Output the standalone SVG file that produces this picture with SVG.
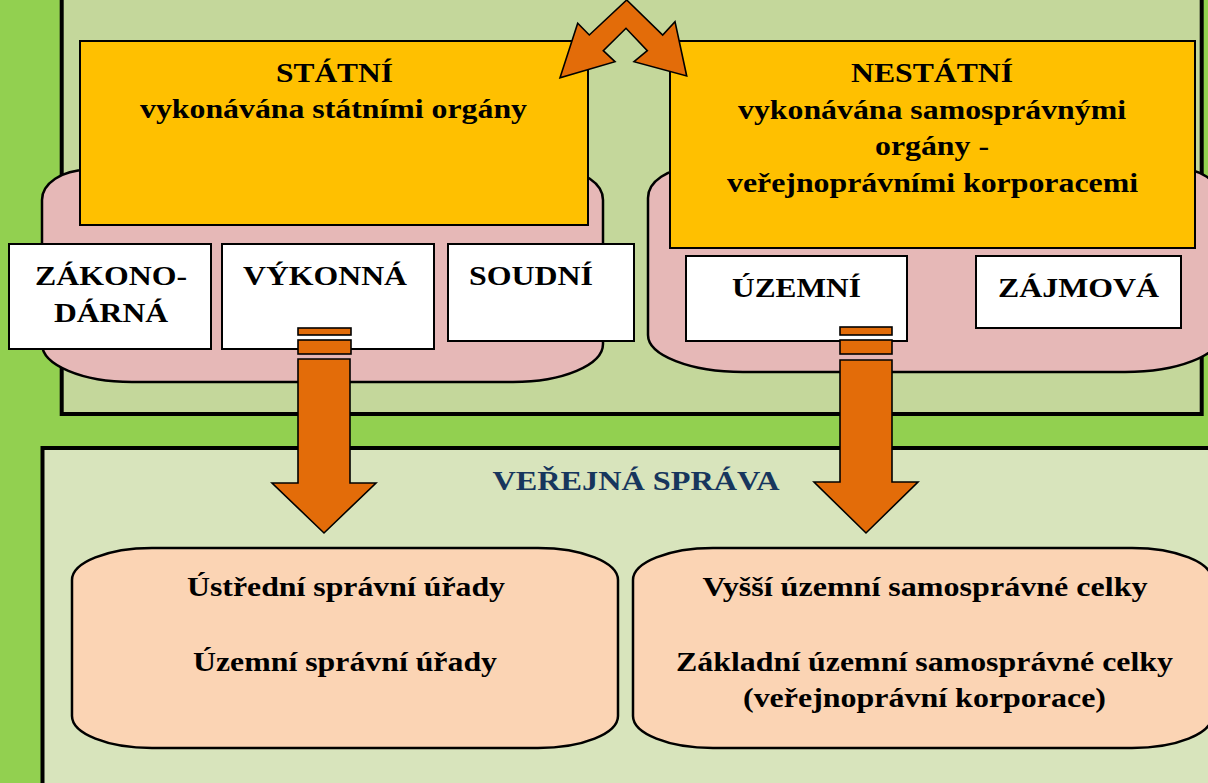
<svg xmlns="http://www.w3.org/2000/svg" width="1208" height="783" viewBox="0 0 1208 783">
<style>
.t{font-family:"Liberation Serif","Times New Roman",serif;font-weight:bold;font-size:28px;fill:#000;text-anchor:middle}
.navy{fill:#17365D}
.frame{stroke:#000;stroke-width:4}
.pink{fill:#E6B8B7;stroke:#000;stroke-width:2.5}
.yel{fill:#FFC000;stroke:#000;stroke-width:2}
.white{fill:#FFFFFF;stroke:#000;stroke-width:2}
.peach{fill:#FBD4B4;stroke:#000;stroke-width:2.5}
.arr{fill:#E36C09;stroke:#000;stroke-width:1.6;stroke-linejoin:miter}
</style>
<rect x="0" y="0" width="1208" height="783" fill="#92D050"/>
<g id="frame-top">
<rect class="frame" x="61.7" y="-20" width="1140" height="434" fill="#C4D79B"/>
</g>
<g id="frame-bottom">
<rect class="frame" x="42.5" y="448" width="1200" height="360" fill="#D8E4BC"/>
<text class="t navy" x="636" y="490" textLength="287" lengthAdjust="spacingAndGlyphs">VEŘEJNÁ SPRÁVA</text>
</g>
<g id="pink-left">
<path class="pink" d="M42,200 A45,30 0 0 1 87,170 L558,170 A45,30 0 0 1 603,200 L603,344 A90,38 0 0 1 513,382 L132,382 A90,38 0 0 1 42,344 Z"/>
</g>
<g id="pink-right">
<path class="pink" d="M648,198 A45,30 0 0 1 693,168 L1175,168 A45,30 0 0 1 1220,198 L1220,335 A95,37 0 0 1 1125,372 L743,372 A95,37 0 0 1 648,335 Z"/>
</g>
<g id="statni">
<rect class="yel" x="80" y="41" width="508" height="184"/>
<text class="t" x="334.5" y="82" textLength="117" lengthAdjust="spacingAndGlyphs">STÁTNÍ</text>
<text class="t" x="333.5" y="118" textLength="387" lengthAdjust="spacingAndGlyphs">vykonávána státními orgány</text>
</g>
<g id="nestatni">
<rect class="yel" x="670" y="41" width="525" height="207"/>
<text class="t" x="932" y="82" textLength="162" lengthAdjust="spacingAndGlyphs">NESTÁTNÍ</text>
<text class="t" x="932" y="118.5" textLength="388" lengthAdjust="spacingAndGlyphs">vykonávána samosprávnými</text>
<text class="t" x="932" y="155" textLength="114" lengthAdjust="spacingAndGlyphs">orgány -</text>
<text class="t" x="932.5" y="192" textLength="411" lengthAdjust="spacingAndGlyphs">veřejnoprávními korporacemi</text>
</g>
<g id="zakonodarna">
<rect class="white" x="9" y="244" width="202" height="105"/>
<text class="t" x="111" y="285" textLength="152" lengthAdjust="spacingAndGlyphs">ZÁKONO-</text>
<text class="t" x="111" y="322" textLength="114" lengthAdjust="spacingAndGlyphs">DÁRNÁ</text>
</g>
<g id="vykonna">
<rect class="white" x="222" y="244" width="212" height="105"/>
<text class="t" x="325" y="285" textLength="164" lengthAdjust="spacingAndGlyphs">VÝKONNÁ</text>
</g>
<g id="soudni">
<rect class="white" x="448" y="244" width="186" height="97"/>
<text class="t" x="531" y="285" textLength="124" lengthAdjust="spacingAndGlyphs">SOUDNÍ</text>
</g>
<g id="uzemni">
<rect class="white" x="686" y="256" width="221" height="85"/>
<text class="t" x="796.5" y="297" textLength="129" lengthAdjust="spacingAndGlyphs">ÚZEMNÍ</text>
</g>
<g id="zajmova">
<rect class="white" x="976" y="256" width="205" height="72"/>
<text class="t" x="1078.5" y="297" textLength="161" lengthAdjust="spacingAndGlyphs">ZÁJMOVÁ</text>
</g>
<g id="connectors">
<path class="arr" d="M626.7,0 L589.3,35 L577.7,23.3 L560,77.7 L615,61.7 L603.3,50.7 L626,28.3 L647.3,50.7 L634,61.7 L686.7,76 L675,21.7 L662.7,35 Z"/>
<rect class="arr" x="298" y="328" width="53" height="7"/>
<rect class="arr" x="298" y="340" width="53" height="14"/>
<path class="arr" d="M298,359 L350,359 L350,483 L376,483 L324,533 L272,483 L298,483 Z"/>
<rect class="arr" x="840" y="327" width="52" height="8"/>
<rect class="arr" x="840" y="340" width="52" height="14"/>
<path class="arr" d="M840,360 L892,360 L892,482 L918,482 L866,533 L814,482 L840,482 Z"/>
</g>
<g id="statni-sprava">
<path class="peach" d="M72,580 A80,32 0 0 1 152,548 L538,548 A80,32 0 0 1 618,580 L618,716 A80,32 0 0 1 538,748 L152,748 A80,32 0 0 1 72,716 Z"/>
<text class="t" x="346" y="596" textLength="318" lengthAdjust="spacingAndGlyphs">Ústřední správní úřady</text>
<text class="t" x="345" y="671" textLength="304" lengthAdjust="spacingAndGlyphs">Územní správní úřady</text>
</g>
<g id="samosprava">
<path class="peach" d="M633,580 A80,32 0 0 1 713,548 L1132,548 A80,32 0 0 1 1212,580 L1212,716 A80,32 0 0 1 1132,748 L713,748 A80,32 0 0 1 633,716 Z"/>
<text class="t" x="925" y="596" textLength="445" lengthAdjust="spacingAndGlyphs">Vyšší územní samosprávné celky</text>
<text class="t" x="924.5" y="671" textLength="497" lengthAdjust="spacingAndGlyphs">Základní územní samosprávné celky</text>
<text class="t" x="924.5" y="707" textLength="363" lengthAdjust="spacingAndGlyphs">(veřejnoprávní korporace)</text>
</g>
</svg>
